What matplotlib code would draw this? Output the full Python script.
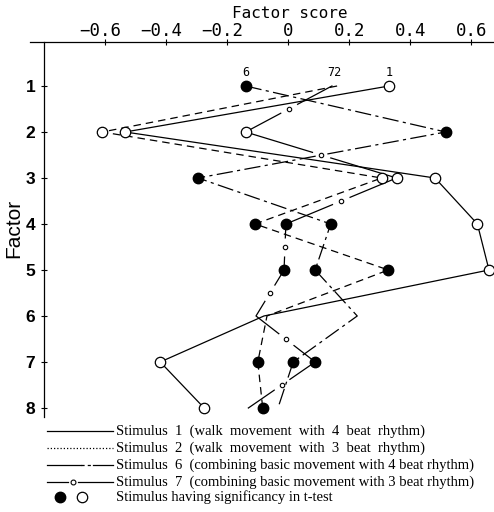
import matplotlib
matplotlib.use("Agg")
import matplotlib.pyplot as plt
from matplotlib.lines import Line2D
import numpy as np

factors = [1, 2, 3, 4, 5, 6, 7, 8]
s1 = [0.33, -0.535, 0.481, 0.62, 0.658, -0.08, -0.42, -0.276]
s2 = [0.16, -0.61, 0.306, -0.109, 0.328, -0.07, -0.10, -0.084]
s6 = [-0.14, 0.516, -0.296, 0.139, 0.088, 0.226, 0.016, -0.034]
s7 = [0.143, -0.14, 0.355, -0.008, -0.014, -0.106, 0.088, -0.131]
# significance: 'f' filled, 'o' open, '' none
sig1 = ['o', 'o', 'o', 'o', 'o', '', 'o', 'o']
sig2 = ['', 'o', 'o', 'f', 'f', '', 'f', 'f']
sig6 = ['f', 'f', 'f', 'f', 'f', '', 'f', '']
sig7 = ['', 'o', 'o', 'f', 'f', '', 'f', '']
xticks = [-0.6, -0.4, -0.2, 0, 0.2, 0.4, 0.6]
xticklabels = ['\u22120.6', '\u22120.4', '\u22120.2', '0', '0.2', '0.4', '0.6']
legend_texts = [
    "Stimulus  1  (walk  movement  with  4  beat  rhythm)",
    "Stimulus  2  (walk  movement  with  3  beat  rhythm)",
    "Stimulus  6  (combining basic movement with 4 beat rhythm)",
    "Stimulus  7  (combining basic movement with 3 beat rhythm)",
    "Stimulus having significancy in t-test",
]

W, H = 494, 512
fig = plt.figure(figsize=(W / 100, H / 100), dpi=100)
ax = fig.add_axes([30 / W, (H - 417) / H, 464 / W, (417 - 42) / H])
ax.set_xlim(-0.847, 0.6744)
ax.set_ylim(8.196, 0.0435)

for sp in ['bottom', 'right']:
    ax.spines[sp].set_visible(False)
ax.spines['left'].set_position(('data', -0.8))
ax.spines['top'].set_linewidth(0.9)
ax.spines['left'].set_linewidth(0.9)

ax.xaxis.tick_top()
ax.set_xticks(xticks)
ax.set_xticklabels([])
ax.tick_params(axis='x', direction='inout', length=5, width=0.8)
charw = 0.602 * 12.5
for v, lab in zip(xticks, xticklabels):
    n = len(lab.lstrip('\u2212'))
    ax.annotate(lab, xy=(v, 1.0), xycoords=('data', 'axes fraction'),
                xytext=(n / 2 * charw, 4.5), textcoords='offset points',
                ha='right', va='baseline', family='DejaVu Sans Mono',
                fontsize=12.5, annotation_clip=False)

ax.set_yticks(factors)
ax.set_yticklabels([str(f) for f in factors], family='Liberation Sans',
                   fontsize=12.5, fontweight='bold')
ax.tick_params(axis='y', direction='inout', length=5, width=0.8, pad=4)

lw = 0.9
ax.plot(s1, factors, color='black', lw=lw, zorder=3)
ax.plot(s2, factors, color='black', lw=lw, ls=(0, (6, 4)), zorder=3)
ax.plot(s6, factors, color='black', lw=lw, ls=(0, (13, 3.5, 2.5, 3.5)), zorder=3)
ax.plot(s7, factors, color='black', lw=lw, zorder=2)
mx = [(a + b) / 2 for a, b in zip(s7[:-1], s7[1:])]
my = [(a + b) / 2 for a, b in zip(factors[:-1], factors[1:])]
ax.plot(mx, my, ls='none', marker='o', ms=13, mfc='white', mec='none', zorder=2.5)
ax.plot(mx, my, ls='none', marker='o', ms=3.2, mfc='white', mec='black', mew=0.8, zorder=4)

for xs, sg in [(s1, sig1), (s2, sig2), (s6, sig6), (s7, sig7)]:
    fx = [x for x, s in zip(xs, sg) if s == 'f']
    fy = [f for f, s in zip(factors, sg) if s == 'f']
    ox = [x for x, s in zip(xs, sg) if s == 'o']
    oy = [f for f, s in zip(factors, sg) if s == 'o']
    ax.plot(fx, fy, ls='none', marker='o', ms=7.5, mfc='black', mec='black', zorder=5)
    ax.plot(ox, oy, ls='none', marker='o', ms=7.5, mfc='white', mec='black', mew=0.9, zorder=5)

lab_kw = dict(textcoords='offset points', ha='center', va='bottom',
              family='DejaVu Sans Mono', fontsize=8.5)
ax.annotate('6', xy=(s6[0], factors[0]), xytext=(0, 5), **lab_kw)
ax.annotate('72', xy=((s2[0] + s7[0]) / 2, factors[0]), xytext=(0, 5), **lab_kw)
ax.annotate('1', xy=(s1[0], factors[0]), xytext=(0, 5), **lab_kw)

fig.text(289.5 / W, 1 - 13 / H, 'Factor score', ha='center', va='center',
         family='DejaVu Sans Mono', fontsize=11.5)
fig.text(14 / W, 1 - 228 / H, 'Factor', ha='center', va='center', rotation=90,
         family='Liberation Sans', fontsize=15)

# legend
rows = [431, 448, 465, 482, 497]
x0, x1 = 47, 113
def fx_(p):
    return p / W
def fy_(p):
    return 1 - p / H
fig.add_artist(Line2D([fx_(x0), fx_(x1)], [fy_(rows[0])] * 2, color='black', lw=lw))
fig.add_artist(Line2D([fx_(x0), fx_(x1)], [fy_(rows[1])] * 2, color='black', lw=lw, ls=(0, (1, 1.6))))
fig.add_artist(Line2D([fx_(x0), fx_(81)], [fy_(rows[2])] * 2, color='black', lw=lw))
fig.add_artist(Line2D([fx_(81), fx_(93)], [fy_(rows[2])] * 2, color='black', lw=lw, ls=(0, (2.5, 2.5))))
fig.add_artist(Line2D([fx_(93), fx_(x1)], [fy_(rows[2])] * 2, color='black', lw=lw))
fig.add_artist(Line2D([fx_(x0), fx_(68)], [fy_(rows[3])] * 2, color='black', lw=lw))
fig.add_artist(Line2D([fx_(78), fx_(x1)], [fy_(rows[3])] * 2, color='black', lw=lw))
fig.add_artist(Line2D([fx_(73)], [fy_(rows[3])], ls='none', marker='o', ms=3.5,
                      mfc='white', mec='black', mew=0.8))
fig.add_artist(Line2D([fx_(60)], [fy_(rows[4])], ls='none', marker='o', ms=7.5,
                      mfc='black', mec='black'))
fig.add_artist(Line2D([fx_(82)], [fy_(rows[4])], ls='none', marker='o', ms=7.5,
                      mfc='white', mec='black', mew=0.9))
for r, t in zip(rows, legend_texts):
    fig.text(fx_(116), fy_(r), t, ha='left', va='center', family='Liberation Serif',
             fontsize=10.5)

fig.savefig('out.png', dpi=100)
